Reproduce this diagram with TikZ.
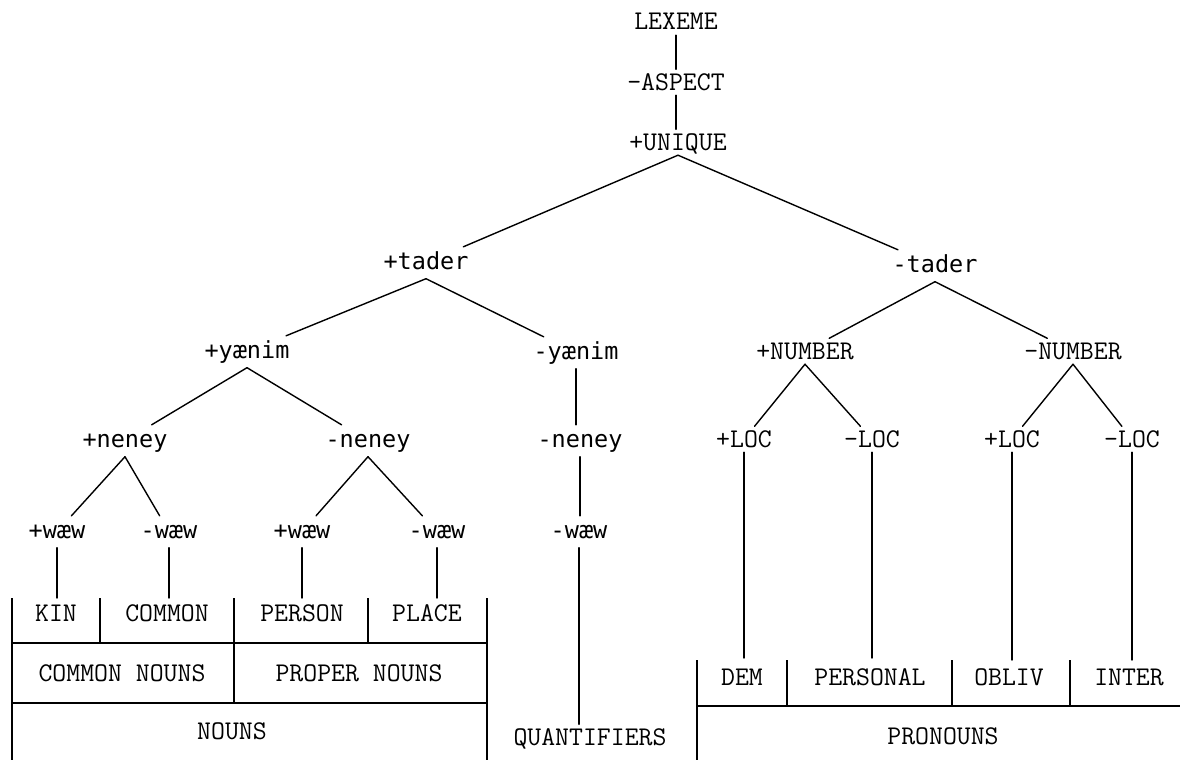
\documentclass[tikz,border=0pt]{standalone}
\usepackage{fontspec}
\newfontfamily\sansmono{DejaVu Sans Mono}
\begin{document}
\begin{tikzpicture}[x=1pt,y=-1pt,
  capl/.style={font=\fontsize{27}{30}\selectfont\ttfamily, anchor=base,
    inner sep=4pt, text height=16.5pt, text depth=1pt},
  lowl/.style={font=\fontsize{23.5}{26}\selectfont\sansmono, anchor=base,
    inner sep=4pt, text height=18pt, text depth=5.5pt},
  branch/.style={line width=1.4pt, line cap=round},
  grid/.style={line width=1.3pt}]
\useasboundingbox (0,0) rectangle (1180,760);

% upper spine
\node[capl] (lexeme) at (676,30) {LEXEME};
\node[capl] (aspect) at (676,90) {-ASPECT};
\node[capl] (unique) at (678,150) {+UNIQUE};

% feature nodes
\node[lowl] (tp)  at (426,269) {+tader};
\node[lowl] (tm)  at (935,272) {-tader};
\node[lowl] (yp)  at (247,358) {+yænim};
\node[lowl] (ym)  at (576,359) {-yænim};
\node[capl] (np)  at (805,359) {+NUMBER};
\node[capl] (nm)  at (1073,359) {-NUMBER};
\node[lowl] (nep) at (125,447) {+neney};
\node[lowl] (nem) at (368,447) {-neney};
\node[lowl] (nex) at (580,447) {-neney};
\node[capl] (lp1) at (744,447) {+LOC};
\node[capl] (lm1) at (872,447) {-LOC};
\node[capl] (lp2) at (1012,447) {+LOC};
\node[capl] (lm2) at (1132,447) {-LOC};
\node[lowl] (wp1) at (57,538) {+wæw};
\node[lowl] (wm1) at (169,538) {-wæw};
\node[lowl] (wp2) at (302,538) {+wæw};
\node[lowl] (wm2) at (437,538) {-wæw};
\node[lowl] (wx)  at (579,538) {-wæw};

% class labels
\node[capl] (kin)    at (56,621)  {KIN};
\node[capl] (common) at (167,621) {COMMON};
\node[capl] (person) at (302,621) {PERSON};
\node[capl] (place)  at (427,621) {PLACE};
\node[capl] (cn)     at (122,681) {COMMON NOUNS};
\node[capl] (pn)     at (359,681) {PROPER NOUNS};
\node[capl] (nouns)  at (232,739) {NOUNS};
\node[capl] (quant)  at (590,745) {QUANTIFIERS};
\node[capl] (dem)    at (742,685) {DEM};
\node[capl] (pers)   at (870,685) {PERSONAL};
\node[capl] (obliv)  at (1009,685) {OBLIV};
\node[capl] (inter)  at (1129,685) {INTER};
\node[capl] (pron)   at (943,744) {PRONOUNS};

% tops of the table cells
\coordinate (kinT)    at (57,598);
\coordinate (commonT) at (169,598);
\coordinate (personT) at (302,598);
\coordinate (placeT)  at (437,598);
\coordinate (demT)    at (744,658);
\coordinate (persT)   at (872,658);
\coordinate (oblivT)  at (1012,660);
\coordinate (interT)  at (1132,660);

% connectors
\begin{scope}[branch]
  \draw (lexeme.south) -- (aspect.north);
  \draw (aspect.south) -- (aspect.south |- unique.north);
  \draw (unique.south) -- (tp);
  \draw (unique.south) -- (tm);
  \draw (tp.south) -- (yp);
  \draw (tp.south) -- (ym);
  \draw (tm.south) -- (np);
  \draw (tm.south) -- (nm);
  \draw (yp.south) -- (nep);
  \draw (yp.south) -- (nem);
  \draw (ym.south) -- (ym.south |- nex.north);
  \draw (np.south) -- (lp1);
  \draw (np.south) -- (lm1);
  \draw (nm.south) -- (lp2);
  \draw (nm.south) -- (lm2);
  \draw (nep.south) -- (wp1);
  \draw (nep.south) -- (wm1);
  \draw (nem.south) -- (wp2);
  \draw (nem.south) -- (wm2);
  \draw (nex.south) -- (nex.south |- wx.north);
  \draw (wp1.south) -- (kinT);
  \draw (wm1.south) -- (commonT);
  \draw (wp2.south) -- (personT);
  \draw (wm2.south) -- (placeT);
  \draw (wx.south) -- (wx.south |- quant.north);
  \draw (lp1.south) -- (demT);
  \draw (lm1.south) -- (persT);
  \draw (lp2.south) -- (oblivT);
  \draw (lm2.south) -- (interT);
\end{scope}

% noun table
\begin{scope}[grid]
  \draw (12,598) -- (12,760);
  \draw (487,598) -- (487,760);
  \draw (12,643) -- (487,643);
  \draw (12,703) -- (487,703);
  \draw (100,598) -- (100,643);
  \draw (234,598) -- (234,703);
  \draw (368,598) -- (368,643);
  % pronoun table
  \draw (697,660) -- (697,760);
  \draw (697,706) -- (1180,706);
  \draw (787,660) -- (787,706);
  \draw (952,660) -- (952,706);
  \draw (1070,660) -- (1070,706);
\end{scope}
\end{tikzpicture}
\end{document}
